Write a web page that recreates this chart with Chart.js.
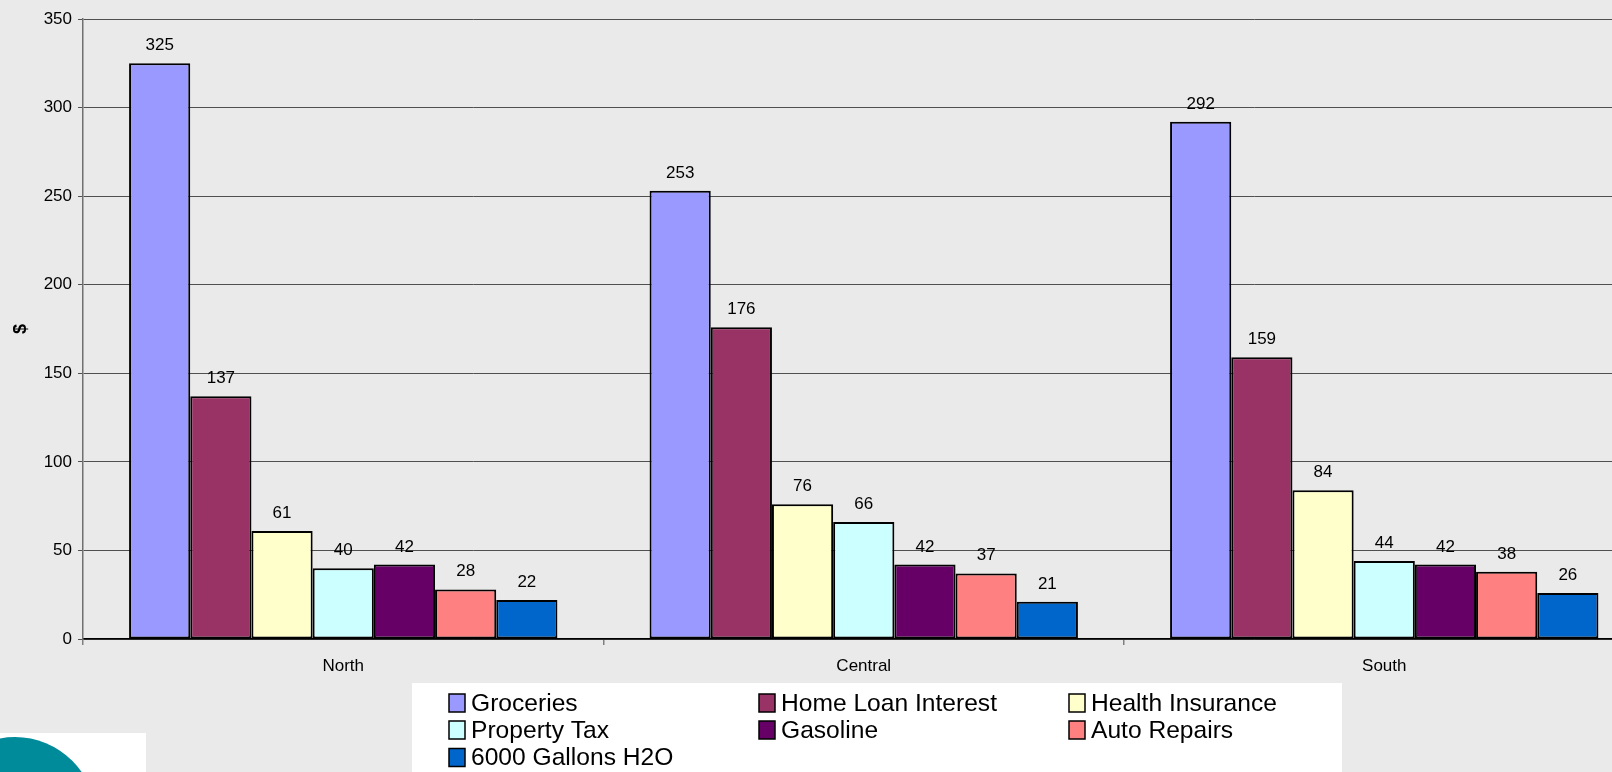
<!DOCTYPE html>
<html>
<head>
<meta charset="utf-8">
<title>Monthly costs by region</title>
<script src="https://cdn.jsdelivr.net/npm/chart.js@4.4.1/dist/chart.umd.min.js"></script>
<style>
  html, body { margin: 0; padding: 0; background: #EAEAEA; overflow: hidden; }
  #wrap { position: relative; width: 1650px; height: 772px; }
</style>
</head>
<body>
<div id="wrap"><canvas id="chart"></canvas></div>
<script>
// Regions along the x axis
const categories = ['North', 'Central', 'South'];

// Monthly cost per region, one array per expense
const groceries        = [325, 253, 292];
const homeLoanInterest = [137, 176, 159];
const healthInsurance  = [61, 76, 84];
const propertyTax      = [40, 66, 44];
const gasoline         = [42, 42, 42];
const autoRepairs      = [28, 37, 38];
const gallonsH2O       = [22, 21, 26];

const seriesNames = ['Groceries', 'Home Loan Interest', 'Health Insurance',
                     'Property Tax', 'Gasoline', 'Auto Repairs', '6000 Gallons H2O'];
const seriesValues = [groceries, homeLoanInterest, healthInsurance,
                      propertyTax, gasoline, autoRepairs, gallonsH2O];
const seriesColors = ['#9999FF', '#993366', '#FFFFCC', '#CCFFFF',
                      '#660066', '#FF8080', '#0066CC'];

// Y axis ticks
const yTicks = [0, 50, 100, 150, 200, 250, 300, 350];

const FONT = '"Liberation Sans", Arial, sans-serif';

// Value printed above each bar
const valueLabels = {
  id: 'valueLabels',
  afterDatasetsDraw(chart) {
    const ctx = chart.ctx;
    ctx.save();
    ctx.font = '17px ' + FONT;
    ctx.fillStyle = '#000';
    ctx.textAlign = 'center';
    ctx.textBaseline = 'alphabetic';
    chart.data.datasets.forEach((ds, di) => {
      const meta = chart.getDatasetMeta(di);
      meta.data.forEach((bar, i) => {
        ctx.fillText(String(ds.data[i]), bar.x, bar.y - 13);
      });
    });
    ctx.restore();
  }
};

// Three-column legend in a white box, plus the corner badge
const boxLegend = {
  id: 'boxLegend',
  afterDraw(chart) {
    const ctx = chart.ctx;
    ctx.save();
    ctx.fillStyle = '#FFFFFF';
    ctx.fillRect(412, 683, 930, 100);
    const colX = [449, 759, 1069];
    const rowY = [703, 730, 757.5];
    ctx.font = '24.6px ' + FONT;
    ctx.textBaseline = 'middle';
    ctx.textAlign = 'left';
    chart.data.datasets.forEach((ds, i) => {
      const x = colX[i % 3];
      const y = rowY[Math.floor(i / 3)];
      ctx.fillStyle = ds.backgroundColor;
      ctx.fillRect(x, y - 9, 16, 18);
      ctx.lineWidth = 1.5;
      ctx.strokeStyle = '#000';
      ctx.strokeRect(x, y - 9, 16, 18);
      ctx.fillStyle = '#000';
      ctx.fillText(ds.label, x + 22, y + 1);
    });

    // corner badge
    ctx.fillStyle = '#FFFFFF';
    ctx.fillRect(0, 733, 146, 40);
    ctx.beginPath();
    ctx.rect(0, 733, 146, 40);
    ctx.clip();
    ctx.fillStyle = '#008B9B';
    ctx.beginPath();
    ctx.arc(15, 818, 81, 0, Math.PI * 2);
    ctx.fill();
    ctx.restore();
  }
};

new Chart(document.getElementById('chart'), {
  type: 'bar',
  data: {
    labels: categories,
    datasets: seriesNames.map((name, i) => ({
      label: name,
      data: seriesValues[i],
      backgroundColor: seriesColors[i],
      borderColor: '#000000',
      borderWidth: 2,
      borderSkipped: false,
      barPercentage: 1.0,
      categoryPercentage: 0.823
    }))
  },
  options: {
    responsive: true,
    maintainAspectRatio: false,
    animation: false,
    layout: { padding: { top: 19, right: 5.5, bottom: 0, left: 0 } },
    plugins: {
      legend: { display: false },
      tooltip: { enabled: false }
    },
    scales: {
      x: {
        grid: {
          offset: true,
          drawOnChartArea: false,
          drawTicks: true,
          tickLength: 6,
          color: '#808080',
          lineWidth: 1.5
        },
        border: { display: true, color: '#000000', width: 1.5 },
        ticks: {
          color: '#000',
          font: { family: FONT, size: 17 },
          padding: 11,
          maxRotation: 0
        },
        afterFit(scale) { scale.height = 133; }
      },
      y: {
        min: 0,
        max: 350,
        afterBuildTicks(scale) { scale.ticks = yTicks.map(v => ({ value: v })); },
        grid: {
          color: '#505050',
          lineWidth: 1,
          drawTicks: true,
          tickLength: 5
        },
        border: { display: true, color: '#707070', width: 1.5 },
        ticks: {
          color: '#000',
          font: { family: FONT, size: 17 },
          padding: 6
        },
        title: {
          display: true,
          text: '$',
          color: '#000',
          font: { family: FONT, size: 18, weight: 'bold' },
          padding: { top: 10, bottom: 4 }
        },
        afterFit(scale) { scale.width = 83; }
      }
    }
  },
  plugins: [valueLabels, boxLegend]
});
</script>
</body>
</html>
